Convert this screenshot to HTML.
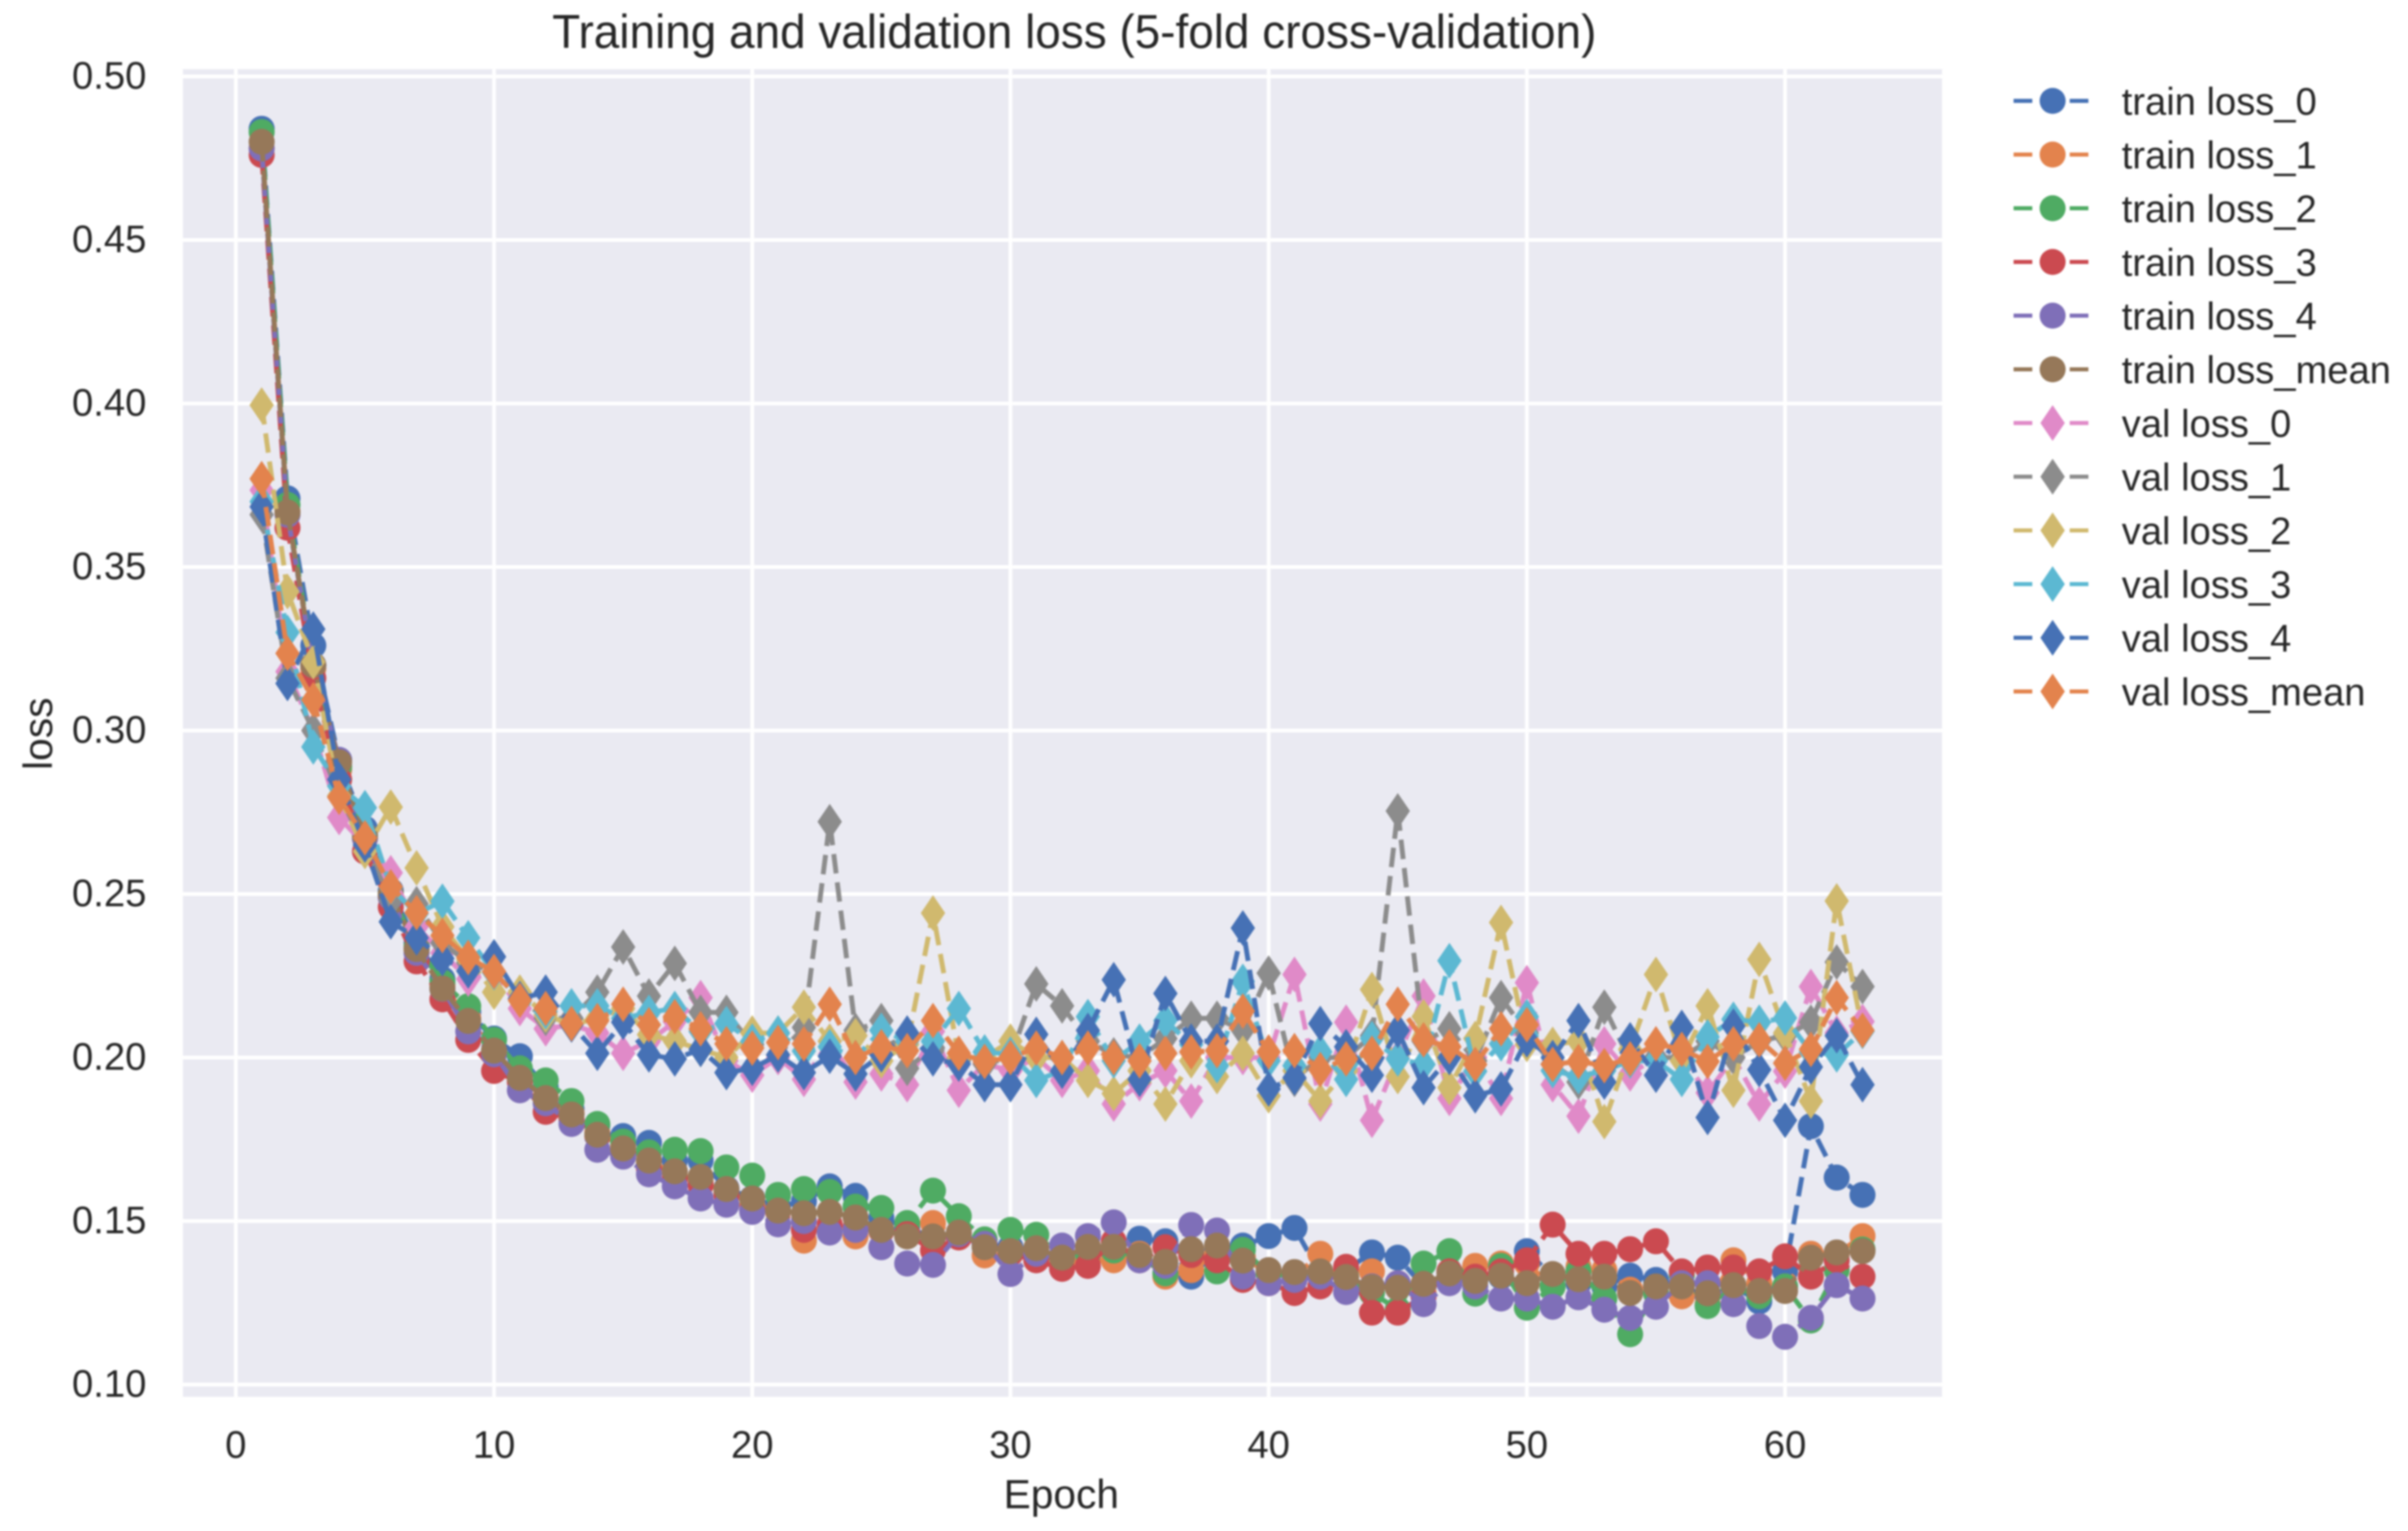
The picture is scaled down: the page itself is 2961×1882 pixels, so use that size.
<!DOCTYPE html>
<html lang="en">
<head>
<meta charset="utf-8">
<title>Training and validation loss</title>
<style>
html,body{margin:0;padding:0;background:#fff;width:2961px;height:1882px;overflow:hidden}
svg{display:block;filter:blur(1.1px)}
text{font-family:"Liberation Sans",Arial,sans-serif;fill:#262626}
</style>
</head>
<body>
<svg id="chart" xmlns="http://www.w3.org/2000/svg" width="2961" height="1882" viewBox="0 0 2961 1882">
  <rect x="0" y="0" width="2961" height="1882" fill="#ffffff"/>
  <rect x="225" y="85" width="2163" height="1632" fill="#eaeaf2"/>
  <g id="grid"></g>
  <g id="series"></g>
  <g id="ticks"></g>
  <text x="1321" y="59" font-size="58" text-anchor="middle" textLength="1284" lengthAdjust="spacingAndGlyphs">Training and validation loss (5-fold cross-validation)</text>
  <text x="1305" y="1854" font-size="50" text-anchor="middle">Epoch</text>
  <text x="0" y="0" font-size="50" text-anchor="middle" transform="translate(64 902) rotate(-90)">loss</text>
  <g id="legend"></g>
</svg>
<script>
const xTickValues = [0, 10, 20, 30, 40, 50, 60];
const yTickValues = [0.10, 0.15, 0.20, 0.25, 0.30, 0.35, 0.40, 0.45, 0.50];

const seriesNames = ["train loss_0","train loss_1","train loss_2","train loss_3","train loss_4","train loss_mean","val loss_0","val loss_1","val loss_2","val loss_3","val loss_4","val loss_mean"];
const seriesColors = ["#4671b5","#e3834d","#4fab63","#cb4a50","#7f6fb8","#967859","#e08ac8","#8c8c8c","#d0b96e","#5cb8d2","#4671b5","#e3834d"];

const trainLoss0 = [.484,.371,.326,.291,.27,.251,.235,.224,.214,.2058,.2004,.1909,.1842,.1793,.176,.1739,.1685,.1685,.16,.157,.1544,.156,.1606,.1577,.151,.148,.145,.146,.143,.142,.14,.139,.141,.142,.1446,.1438,.133,.141,.1425,.1454,.1479,.134,.135,.1404,.1388,.13,.133,.132,.133,.1408,.133,.131,.13,.1333,.132,.13,.127,.13,.1254,.1346,.179,.1633,.158];
const trainLoss1 = [.478,.367,.319,.288,.267,.249,.233,.222,.212,.202,.193,.188,.183,.177,.173,.168,.165,.162,.159,.155,.153,.144,.148,.1453,.147,.146,.1494,.145,.1395,.141,.14,.137,.138,.138,.14,.133,.135,.14,.139,.134,.133,.14,.135,.1346,.131,.128,.133,.1363,.137,.137,.13,.136,.135,.129,.128,.127,.1246,.138,.131,.13,.14,.14,.1454];
const trainLoss2 = [.483,.369,.32,.289,.268,.25,.234,.223,.2157,.2054,.1967,.193,.1867,.1797,.1743,.171,.1718,.1714,.1664,.1639,.158,.1598,.1589,.1544,.154,.1494,.1593,.1515,.1444,.1473,.1458,.139,.14,.141,.139,.134,.14,.1346,.1412,.134,.133,.134,.133,.128,.123,.137,.1408,.1278,.1363,.1235,.13,.1346,.1263,.1154,.128,.1334,.124,.13,.127,.13,.1196,.135,.1413];
const trainLoss3 = [.476,.362,.316,.285,.263,.246,.2294,.2178,.2054,.1959,.1925,.1834,.181,.176,.171,.166,.163,.161,.158,.1535,.153,.1473,.149,.148,.147,.146,.141,.145,.143,.14,.138,.1354,.1363,.1438,.138,.142,.1396,.138,.132,.131,.128,.13,.136,.122,.122,.127,.1346,.133,.1346,.138,.1489,.14,.14,.1414,.1438,.1346,.1358,.1358,.1346,.1392,.133,.138,.133];
const trainLoss4 = [.478,.366,.32,.291,.267,.249,.232,.221,.208,.201,.19,.186,.1797,.1718,.1697,.1643,.1606,.1569,.155,.1528,.149,.15,.1465,.1473,.142,.137,.1366,.146,.143,.1338,.14,.1425,.1454,.1496,.138,.1363,.1488,.1471,.133,.131,.132,.133,.1283,.13,.131,.1246,.131,.13,.1263,.1263,.1238,.1267,.1229,.1204,.1238,.131,.131,.1246,.1179,.1146,.1204,.1304,.1263];
const trainLossMean = [.48,.3667,.32,.2903,.268,.25,.2332,.2211,.2112,.2021,.1938,.1876,.1826,.1764,.1722,.1685,.1652,.1635,.1598,.1569,.1532,.1524,.1528,.1511,.1473,.1453,.1453,.1465,.142,.1408,.1417,.1388,.1421,.1421,.1396,.1375,.1414,.1425,.1379,.135,.1344,.1346,.1329,.1298,.1296,.1308,.134,.1317,.1333,.131,.1338,.1322,.133,.128,.13,.13,.1279,.1304,.1286,.1286,.1388,.1404,.1408];
const valLoss0 = [.3735,.318,.3,.2734,.265,.2565,.24,.232,.224,.226,.215,.2088,.21,.2075,.2013,.205,.211,.2183,.199,.1946,.2,.1933,.205,.1925,.195,.1917,.208,.19,.198,.196,.2,.193,.196,.1858,.192,.196,.1867,.2,.2,.2,.2254,.1858,.2108,.1808,.2,.2188,.1875,.2,.1875,.2229,.1917,.1821,.2042,.195,.2,.2,.1892,.2,.1858,.1958,.2217,.2075,.211];
const valLoss1 = [.366,.316,.3,.28,.265,.248,.247,.235,.229,.226,.218,.212,.212,.22,.2338,.2188,.2288,.2138,.2138,.204,.2008,.2092,.2721,.2083,.2113,.1967,.203,.2,.198,.2,.2225,.2158,.205,.2008,.2,.2058,.212,.212,.2083,.2258,.1933,.2,.2,.2067,.2754,.205,.2088,.199,.2183,.2075,.198,.1925,.2154,.199,.2,.2,.205,.2,.205,.2067,.2108,.2292,.2217];
const valLoss2 = [.3995,.3425,.321,.28,.263,.2766,.258,.24,.23,.22,.22,.213,.21,.212,.215,.207,.205,.2025,.2,.2075,.2075,.2154,.205,.2067,.199,.204,.2442,.2,.2,.205,.2,.2,.193,.189,.196,.1858,.199,.1942,.2013,.1883,.196,.1867,.196,.2208,.1942,.2125,.1908,.2058,.2413,.204,.204,.205,.1804,.2025,.2254,.199,.2158,.19,.23,.2075,.1867,.2479,.2083];
const valLoss3 = [.37,.33,.295,.283,.2764,.252,.244,.2478,.2366,.226,.218,.214,.2158,.2158,.212,.2138,.215,.208,.2104,.205,.2075,.202,.2033,.2,.2083,.205,.205,.215,.2017,.201,.193,.196,.2125,.199,.205,.2113,.204,.1975,.2233,.199,.1975,.2017,.1933,.2058,.1996,.1979,.2296,.1958,.2042,.2125,.196,.1942,.196,.199,.199,.1933,.2063,.2117,.2108,.2121,.2017,.2008,.208];
const valLoss4 = [.3684,.3144,.331,.285,.265,.2415,.2366,.2303,.2265,.2308,.218,.22,.21,.2013,.2108,.2008,.1996,.2025,.1954,.1967,.2008,.1954,.2004,.195,.2008,.2075,.1996,.198,.1917,.1917,.2071,.1958,.2083,.2238,.1933,.2196,.205,.205,.2396,.1904,.1938,.2104,.2033,.1946,.2083,.1908,.2,.1883,.1904,.2054,.2,.2113,.1925,.2054,.1946,.2092,.1817,.2096,.1963,.1808,.1971,.2067,.1917];
const valLossMean = [.377,.3236,.3094,.2796,.2672,.2522,.2443,.2373,.2306,.2263,.2175,.215,.2104,.2113,.2163,.21,.2125,.2088,.2042,.2029,.2046,.2042,.2163,.2,.2033,.2021,.2113,.2013,.1988,.2,.2029,.2,.2029,.2,.199,.2013,.2017,.2021,.2142,.2017,.2021,.1963,.1996,.2013,.2163,.2054,.2033,.1979,.2088,.21,.1979,.1988,.1975,.1996,.2042,.2025,.1988,.2042,.2054,.1983,.2025,.2183,.2083];

const seriesValues = [trainLoss0, trainLoss1, trainLoss2, trainLoss3, trainLoss4, trainLossMean, valLoss0, valLoss1, valLoss2, valLoss3, valLoss4, valLossMean];

const NS = "http://www.w3.org/2000/svg";
function xScale(v){ return 290 + 31.75 * v; }
function yScale(v){ return 1702 - (v - 0.1) * 4020; }
function make(tag, parent){ const el = document.createElementNS(NS, tag); parent.appendChild(el); return el; }
function slug(s){ return s.replace(/[ _]/g, '-'); }

function drawMarker(parent, isDiamond, cx, cy, color){
  let m;
  if(isDiamond){
    m = make('polygon', parent);
    const hw = 15, hh = 22;
    m.setAttribute('points', [[cx,cy-hh],[cx+hw,cy],[cx,cy+hh],[cx-hw,cy]].map(p => p.join(',')).join(' '));
  } else {
    m = make('circle', parent);
    m.setAttribute('cx', cx);
    m.setAttribute('cy', cy);
    m.setAttribute('r', 16);
  }
  m.setAttribute('fill', color);
  return m;
}

const gridG = document.getElementById('grid');
xTickValues.forEach(v => {
  const l = make('line', gridG);
  
  
  l.setAttribute('x1', xScale(v)); l.setAttribute('x2', xScale(v));
  l.setAttribute('y1', 85); l.setAttribute('y2', 1717);
  l.setAttribute('stroke', '#ffffff'); l.setAttribute('stroke-width', 4.5);
});
yTickValues.forEach(v => {
  const l = make('line', gridG);
  
  
  l.setAttribute('x1', 225); l.setAttribute('x2', 2388);
  l.setAttribute('y1', yScale(v)); l.setAttribute('y2', yScale(v));
  l.setAttribute('stroke', '#ffffff'); l.setAttribute('stroke-width', 4.5);
});

const ticksG = document.getElementById('ticks');
xTickValues.forEach(v => {
  const t = make('text', ticksG);
  
  
  t.setAttribute('x', xScale(v)); t.setAttribute('y', 1792);
  t.setAttribute('font-size', 47); t.setAttribute('text-anchor', 'middle');
  t.textContent = String(v);
});
yTickValues.forEach(v => {
  const t = make('text', ticksG);
  
  
  t.setAttribute('x', 180); t.setAttribute('y', yScale(v) + 15);
  t.setAttribute('font-size', 47); t.setAttribute('text-anchor', 'end');
  t.textContent = v.toFixed(2);
});

const seriesG = document.getElementById('series');
seriesValues.forEach((vals, i) => {
  const g = make('g', seriesG);
  
  
  const p = make('path', g);
  
  
  p.setAttribute('d', vals.map((v, k) => (k ? 'L' : 'M') + xScale(k + 1).toFixed(1) + ' ' + yScale(v).toFixed(1)).join(''));
  p.setAttribute('fill', 'none');
  p.setAttribute('stroke', seriesColors[i]);
  p.setAttribute('stroke-width', 6);
  p.setAttribute('stroke-dasharray', '24 11');
  vals.forEach((v, k) => {
    const m = drawMarker(g, i >= 6, xScale(k + 1), yScale(v), seriesColors[i]);
    
    
  });
});

const legendG = document.getElementById('legend');
seriesNames.forEach((name, i) => {
  const cy = 124 + 66 * i;
  const row = make('g', legendG);
  
  
  [[2476, 2499], [2545, 2568]].forEach(seg => {
    const l = make('line', row);
    
    
    l.setAttribute('x1', seg[0]); l.setAttribute('x2', seg[1]);
    l.setAttribute('y1', cy); l.setAttribute('y2', cy);
    l.setAttribute('stroke', seriesColors[i]); l.setAttribute('stroke-width', 5);
  });
  const m = drawMarker(row, i >= 6, 2524, cy, seriesColors[i]);
  
  
  const t = make('text', row);
  
  
  t.setAttribute('x', 2609); t.setAttribute('y', cy + 17);
  t.setAttribute('font-size', 46.9);
  t.textContent = name;
});
</script>
</body>
</html>
